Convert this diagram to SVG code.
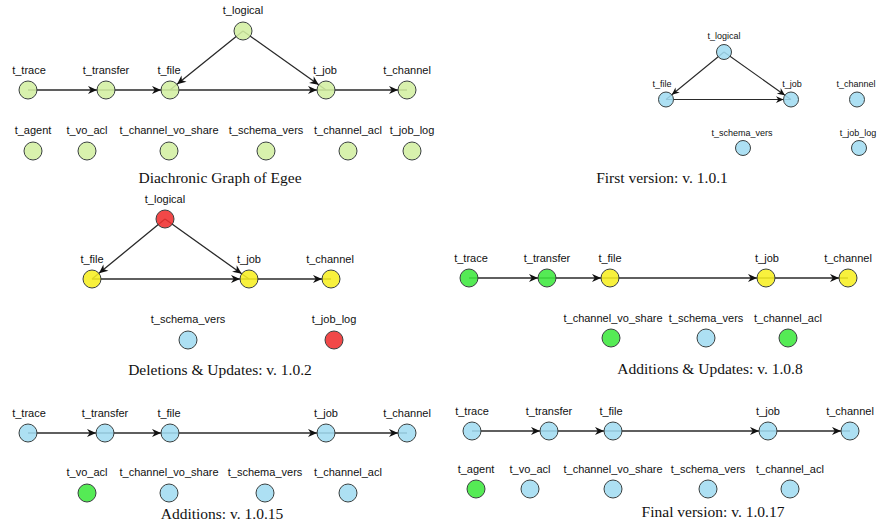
<svg xmlns="http://www.w3.org/2000/svg" width="878" height="527" viewBox="0 0 878 527">
<style>
text{font-family:"Liberation Sans",Arial,sans-serif;fill:#111;text-anchor:middle}
.lbl{font-size:11px}
.lbs{font-size:9px}
.cap{font-family:"Liberation Serif","Times New Roman",serif;font-size:15.5px;fill:#111}
circle{stroke:#3a4040;stroke-width:1;fill-opacity:0.88}
.lg{fill:#d3efa2}
.bl{fill:#a2dcf1}
.ye{fill:#f7ef22}
.rd{fill:#ef2f2f}
.gr{fill:#3ee83e}
.e{fill:none;stroke:#2a2a2a;stroke-width:1.3;marker-mid:url(#ah)}
.es{fill:none;stroke:#2a2a2a;stroke-width:1.1;marker-mid:url(#ahs)}
</style>
<defs>
<marker id="ah" viewBox="0 0 10 10" refX="10" refY="5" markerWidth="11" markerHeight="9" markerUnits="userSpaceOnUse" orient="auto">
<path d="M0,0.5 L10,5 L0,9.5 L3,5 Z" fill="#111"/>
</marker>
<marker id="ahs" viewBox="0 0 10 10" refX="10" refY="5" markerWidth="9" markerHeight="7.5" markerUnits="userSpaceOnUse" orient="auto">
<path d="M0,0.5 L10,5 L0,9.5 L3,5 Z" fill="#111"/>
</marker>
</defs>
<rect width="878" height="527" fill="#fff"/>

<!-- connectors -->
<g id="connectors">
<path class="e" d="M28,90 L97,90 L106,90"/>
<path class="e" d="M106,90 L161,90 L170,90"/>
<path class="e" d="M170,90 L317,90 L326,90"/>
<path class="e" d="M326,90 L398,90 L407,90"/>
<path class="e" d="M243,31 L177,84.3 L170,90"/>
<path class="e" d="M243,31 L318.7,84.8 L326,90"/>

<path class="es" d="M724,52 L671.8,94.75 L666,99.5"/>
<path class="es" d="M724,52 L784.9,95.2 L791,99.5"/>
<path class="es" d="M666,99.5 L783.5,99.5 L791,99.5"/>

<path class="e" d="M165,219 L98.95,273.3 L92,279"/>
<path class="e" d="M165,219 L241.7,273.8 L249,279"/>
<path class="e" d="M92,279 L240,279 L249,279"/>
<path class="e" d="M249,279 L322,279 L331,279"/>

<path class="e" d="M469,278 L538,278 L547,278"/>
<path class="e" d="M547,278 L601,278 L610,278"/>
<path class="e" d="M610,278 L757,278 L766,278"/>
<path class="e" d="M766,278 L839,278 L848,278"/>

<path class="e" d="M28,433 L96,433 L105,433"/>
<path class="e" d="M105,433 L161,433 L170,433"/>
<path class="e" d="M170,433 L317,433 L326,433"/>
<path class="e" d="M326,433 L398,433 L407,433"/>

<path class="e" d="M472,431 L540,431 L549,431"/>
<path class="e" d="M549,431 L604,431 L613,431"/>
<path class="e" d="M613,431 L759,431 L768,431"/>
<path class="e" d="M768,431 L841,431 L850,431"/>
</g>

<!-- Panel 1: Diachronic Graph of Egee -->
<g id="p1-trace"><circle class="lg" cx="28" cy="90" r="9"/><text class="lbl" x="29" y="74">t_trace</text></g>
<g id="p1-transfer"><circle class="lg" cx="106" cy="90" r="9"/><text class="lbl" x="106" y="74">t_transfer</text></g>
<g id="p1-file"><circle class="lg" cx="170" cy="90" r="9"/><text class="lbl" x="169" y="74">t_file</text></g>
<g id="p1-logical"><circle class="lg" cx="243" cy="31" r="9"/><text class="lbl" x="243" y="14">t_logical</text></g>
<g id="p1-job"><circle class="lg" cx="326" cy="90" r="9"/><text class="lbl" x="325" y="74">t_job</text></g>
<g id="p1-channel"><circle class="lg" cx="407" cy="90" r="9"/><text class="lbl" x="407" y="74">t_channel</text></g>
<g id="p1-agent"><circle class="lg" cx="33" cy="151" r="9"/><text class="lbl" x="33" y="134">t_agent</text></g>
<g id="p1-vo_acl"><circle class="lg" cx="87" cy="151" r="9"/><text class="lbl" x="87" y="134">t_vo_acl</text></g>
<g id="p1-channel_vo_share"><circle class="lg" cx="169" cy="151" r="9"/><text class="lbl" x="169" y="134">t_channel_vo_share</text></g>
<g id="p1-schema_vers"><circle class="lg" cx="266" cy="151" r="9"/><text class="lbl" x="266" y="134">t_schema_vers</text></g>
<g id="p1-channel_acl"><circle class="lg" cx="348" cy="151" r="9"/><text class="lbl" x="348" y="134">t_channel_acl</text></g>
<g id="p1-job_log"><circle class="lg" cx="412" cy="151" r="9"/><text class="lbl" x="412" y="134">t_job_log</text></g>
<text class="cap" x="220" y="183">Diachronic Graph of Egee</text>

<!-- Panel 2: First version -->
<g id="p2-logical"><circle class="bl" cx="724" cy="52" r="7.5"/><text class="lbs" x="724" y="39">t_logical</text></g>
<g id="p2-file"><circle class="bl" cx="666" cy="99.5" r="7.5"/><text class="lbs" x="662" y="86.5">t_file</text></g>
<g id="p2-job"><circle class="bl" cx="791" cy="99.5" r="7.5"/><text class="lbs" x="792" y="86.5">t_job</text></g>
<g id="p2-channel"><circle class="bl" cx="857" cy="99.5" r="7.5"/><text class="lbs" x="856" y="86.5">t_channel</text></g>
<g id="p2-schema_vers"><circle class="bl" cx="743" cy="148" r="7.5"/><text class="lbs" x="742" y="136">t_schema_vers</text></g>
<g id="p2-job_log"><circle class="bl" cx="859" cy="148" r="7.5"/><text class="lbs" x="858" y="136">t_job_log</text></g>
<text class="cap" x="662" y="183">First version: v. 1.0.1</text>

<!-- Panel 3: Deletions & Updates -->
<g id="p3-logical"><circle class="rd" cx="165" cy="219" r="9"/><text class="lbl" x="165" y="203">t_logical</text></g>
<g id="p3-file"><circle class="ye" cx="92" cy="279" r="9"/><text class="lbl" x="92" y="263">t_file</text></g>
<g id="p3-job"><circle class="ye" cx="249" cy="279" r="9"/><text class="lbl" x="249" y="263">t_job</text></g>
<g id="p3-channel"><circle class="ye" cx="331" cy="279" r="9"/><text class="lbl" x="330" y="263">t_channel</text></g>
<g id="p3-schema_vers"><circle class="bl" cx="188" cy="340" r="9"/><text class="lbl" x="188" y="323">t_schema_vers</text></g>
<g id="p3-job_log"><circle class="rd" cx="334" cy="340" r="9"/><text class="lbl" x="334" y="323">t_job_log</text></g>
<text class="cap" x="220" y="375">Deletions &amp; Updates: v. 1.0.2</text>

<!-- Panel 4: Additions & Updates -->
<g id="p4-trace"><circle class="gr" cx="469" cy="278" r="9"/><text class="lbl" x="471" y="262">t_trace</text></g>
<g id="p4-transfer"><circle class="gr" cx="547" cy="278" r="9"/><text class="lbl" x="547" y="262">t_transfer</text></g>
<g id="p4-file"><circle class="ye" cx="610" cy="278" r="9"/><text class="lbl" x="610" y="262">t_file</text></g>
<g id="p4-job"><circle class="ye" cx="766" cy="278" r="9"/><text class="lbl" x="767" y="262">t_job</text></g>
<g id="p4-channel"><circle class="ye" cx="848" cy="278" r="9"/><text class="lbl" x="848" y="262">t_channel</text></g>
<g id="p4-channel_vo_share"><circle class="gr" cx="611" cy="338" r="9"/><text class="lbl" x="613" y="322">t_channel_vo_share</text></g>
<g id="p4-schema_vers"><circle class="bl" cx="706" cy="338" r="9"/><text class="lbl" x="706" y="322">t_schema_vers</text></g>
<g id="p4-channel_acl"><circle class="gr" cx="788" cy="338" r="9"/><text class="lbl" x="788" y="322">t_channel_acl</text></g>
<text class="cap" x="710" y="374">Additions &amp; Updates: v. 1.0.8</text>

<!-- Panel 5: Additions -->
<g id="p5-trace"><circle class="bl" cx="28" cy="433" r="9"/><text class="lbl" x="29" y="417">t_trace</text></g>
<g id="p5-transfer"><circle class="bl" cx="105" cy="433" r="9"/><text class="lbl" x="105" y="417">t_transfer</text></g>
<g id="p5-file"><circle class="bl" cx="170" cy="433" r="9"/><text class="lbl" x="169" y="417">t_file</text></g>
<g id="p5-job"><circle class="bl" cx="326" cy="433" r="9"/><text class="lbl" x="326" y="417">t_job</text></g>
<g id="p5-channel"><circle class="bl" cx="407" cy="433" r="9"/><text class="lbl" x="407" y="417">t_channel</text></g>
<g id="p5-vo_acl"><circle class="gr" cx="87" cy="493" r="9"/><text class="lbl" x="87" y="476">t_vo_acl</text></g>
<g id="p5-channel_vo_share"><circle class="bl" cx="169" cy="493" r="9"/><text class="lbl" x="169" y="476">t_channel_vo_share</text></g>
<g id="p5-schema_vers"><circle class="bl" cx="265" cy="493" r="9"/><text class="lbl" x="265" y="476">t_schema_vers</text></g>
<g id="p5-channel_acl"><circle class="bl" cx="348" cy="493" r="9"/><text class="lbl" x="348" y="476">t_channel_acl</text></g>
<text class="cap" x="222" y="519">Additions: v. 1.0.15</text>

<!-- Panel 6: Final version -->
<g id="p6-trace"><circle class="bl" cx="472" cy="431" r="9"/><text class="lbl" x="472" y="415">t_trace</text></g>
<g id="p6-transfer"><circle class="bl" cx="549" cy="431" r="9"/><text class="lbl" x="549" y="415">t_transfer</text></g>
<g id="p6-file"><circle class="bl" cx="613" cy="431" r="9"/><text class="lbl" x="611" y="415">t_file</text></g>
<g id="p6-job"><circle class="bl" cx="768" cy="431" r="9"/><text class="lbl" x="768" y="415">t_job</text></g>
<g id="p6-channel"><circle class="bl" cx="850" cy="431" r="9"/><text class="lbl" x="850" y="415">t_channel</text></g>
<g id="p6-agent"><circle class="gr" cx="476" cy="489" r="9"/><text class="lbl" x="476" y="473">t_agent</text></g>
<g id="p6-vo_acl"><circle class="bl" cx="530" cy="489" r="9"/><text class="lbl" x="530" y="473">t_vo_acl</text></g>
<g id="p6-channel_vo_share"><circle class="bl" cx="613" cy="489" r="9"/><text class="lbl" x="613" y="473">t_channel_vo_share</text></g>
<g id="p6-schema_vers"><circle class="bl" cx="708" cy="489" r="9"/><text class="lbl" x="708" y="473">t_schema_vers</text></g>
<g id="p6-channel_acl"><circle class="bl" cx="790" cy="489" r="9"/><text class="lbl" x="790" y="473">t_channel_acl</text></g>
<text class="cap" x="713" y="517">Final version: v. 1.0.17</text>
</svg>
